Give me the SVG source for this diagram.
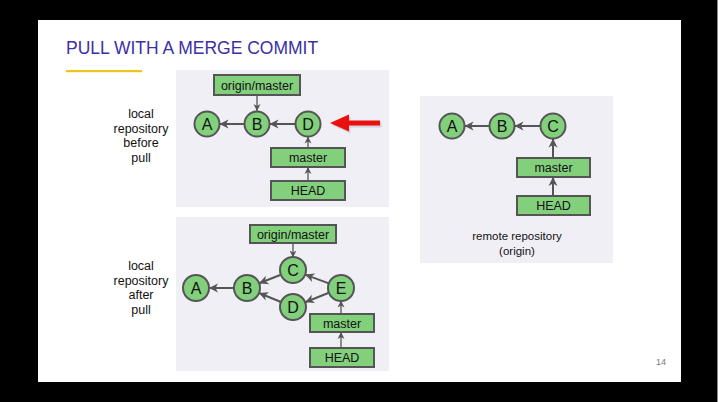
<svg xmlns="http://www.w3.org/2000/svg" width="718" height="402" viewBox="0 0 718 402">
  <style>
    .title { font-family: "Liberation Sans", Arial, sans-serif; font-size: 17.5px; fill: #3b2fa3; }
    .panel { fill: #f1eff6; }
    .commit { fill: #82cf7c; stroke: #555555; stroke-width: 2; }
    .ref { fill: #82cf7c; stroke: #555555; stroke-width: 2; }
    .clabel { font-family: "Liberation Sans", Arial, sans-serif; font-size: 16px; fill: #111111; text-anchor: middle; }
    .rlabel { font-family: "Liberation Sans", Arial, sans-serif; font-size: 12.5px; fill: #111111; text-anchor: middle; }
    .side { font-family: "Liberation Sans", Arial, sans-serif; font-size: 12.5px; fill: #111111; text-anchor: middle; }
    .caption { font-family: "Liberation Sans", Arial, sans-serif; font-size: 11.5px; fill: #111111; text-anchor: middle; }
    .edge { stroke: #555555; stroke-width: 2; fill: none; marker-end: url(#head); }
    .edge-thin { stroke: #555555; stroke-width: 1.3; fill: none; marker-end: url(#head-s); }
  </style>
  <defs>
    <marker id="head" markerUnits="userSpaceOnUse" markerWidth="10" markerHeight="10" refX="9" refY="5" orient="auto">
      <path d="M0,0.5 L9,5 L0,9.5 L2.5,5 z" fill="#555555"/>
    </marker>
    <marker id="head-s" markerUnits="userSpaceOnUse" markerWidth="8" markerHeight="8" refX="7" refY="4" orient="auto">
      <path d="M0,0.5 L7,4 L0,7.5 L2,4 z" fill="#555555"/>
    </marker>
  </defs>

  <!-- slide frame -->
  <rect x="0" y="0" width="718" height="402" fill="#000000"/>
  <rect x="38" y="20" width="643" height="362" fill="#ffffff"/>
  <line x1="717.5" y1="0" x2="717.5" y2="402" stroke="#8a8a8a" stroke-width="1"/>

  <!-- heading -->
  <text class="title" x="66" y="53.5">PULL WITH A MERGE COMMIT</text>
  <rect x="66" y="70" width="76" height="2.2" fill="#f0c419"/>

  <!-- side labels -->
  <g id="label-before">
    <text class="side" x="141" y="118">local</text>
    <text class="side" x="141" y="132.5">repository</text>
    <text class="side" x="141" y="147">before</text>
    <text class="side" x="141" y="161.5">pull</text>
  </g>
  <g id="label-after">
    <text class="side" x="141" y="270">local</text>
    <text class="side" x="141" y="284.5">repository</text>
    <text class="side" x="141" y="299">after</text>
    <text class="side" x="141" y="313.5">pull</text>
  </g>

  <!-- panel backgrounds -->
  <rect class="panel" x="176" y="70" width="213" height="137"/>
  <rect class="panel" x="176" y="217" width="213" height="154"/>
  <rect class="panel" x="420" y="96" width="193" height="167"/>

  <!-- connectors -->
  <g id="connectors">
    <!-- local before pull -->
    <line class="edge" x1="244.5" y1="124" x2="219.5" y2="124"/>
    <line class="edge" x1="295.5" y1="124" x2="269.5" y2="124"/>
    <line class="edge-thin" x1="257" y1="95" x2="257" y2="111"/>
    <line class="edge-thin" x1="308" y1="148" x2="308" y2="136.5"/>
    <line class="edge-thin" x1="308" y1="181" x2="308" y2="167"/>
    <!-- local after pull -->
    <line class="edge" x1="234" y1="288" x2="209" y2="288"/>
    <line class="edge" x1="280.9" y1="274.7" x2="259.1" y2="283.3"/>
    <line class="edge" x1="281" y1="302" x2="259" y2="293"/>
    <line class="edge" x1="328.8" y1="283.4" x2="305.2" y2="274.6"/>
    <line class="edge" x1="328.9" y1="292.8" x2="305.1" y2="302.2"/>
    <line class="edge-thin" x1="293" y1="243" x2="293" y2="257.5"/>
    <line class="edge-thin" x1="341" y1="314" x2="341" y2="300.5"/>
    <line class="edge-thin" x1="341" y1="348" x2="341" y2="332"/>
    <!-- remote -->
    <line class="edge" x1="489.5" y1="126" x2="464.5" y2="126"/>
    <line class="edge" x1="540.5" y1="126" x2="514.5" y2="126"/>
    <line class="edge" x1="553" y1="158" x2="553" y2="138.5"/>
    <line class="edge" x1="553" y1="196" x2="553" y2="177"/>
  </g>

  <!-- local repository before pull -->
  <g id="before-origin-master"><rect class="ref" x="214" y="75" width="86" height="20"/><text class="rlabel" x="257" y="89.5">origin/master</text></g>
  <g id="before-A"><circle class="commit" cx="207" cy="124" r="12.5"/><text class="clabel" x="207" y="129.8">A</text></g>
  <g id="before-B"><circle class="commit" cx="257" cy="124" r="12.5"/><text class="clabel" x="257" y="129.8">B</text></g>
  <g id="before-D"><circle class="commit" cx="308" cy="124" r="12.5"/><text class="clabel" x="308" y="129.8">D</text></g>
  <g id="before-master"><rect class="ref" x="271" y="148" width="74" height="19"/><text class="rlabel" x="308" y="162">master</text></g>
  <g id="before-HEAD"><rect class="ref" x="271" y="181" width="74" height="19"/><text class="rlabel" x="308" y="195">HEAD</text></g>
  <g id="pointer">
    <polygon points="330,123 349,114.5 349,120.5 380,120.5 380,125.5 349,125.5 349,131.5" fill="#000000" opacity="0.12" transform="translate(1.5,2)"/>
    <polygon points="330,123 349,114.5 349,120.5 380,120.5 380,125.5 349,125.5 349,131.5" fill="#ea1010"/>
  </g>

  <!-- local repository after pull -->
  <g id="after-origin-master"><rect class="ref" x="250" y="225" width="86" height="18"/><text class="rlabel" x="293" y="238.5">origin/master</text></g>
  <g id="after-A"><circle class="commit" cx="196" cy="288" r="13"/><text class="clabel" x="196" y="293.8">A</text></g>
  <g id="after-B"><circle class="commit" cx="247" cy="288" r="13"/><text class="clabel" x="247" y="293.8">B</text></g>
  <g id="after-C"><circle class="commit" cx="293" cy="270" r="13"/><text class="clabel" x="293" y="275.8">C</text></g>
  <g id="after-D"><circle class="commit" cx="293" cy="307" r="13"/><text class="clabel" x="293" y="312.8">D</text></g>
  <g id="after-E"><circle class="commit" cx="341" cy="288" r="13"/><text class="clabel" x="341" y="293.8">E</text></g>
  <g id="after-master"><rect class="ref" x="310" y="314" width="64" height="18"/><text class="rlabel" x="342" y="327.5">master</text></g>
  <g id="after-HEAD"><rect class="ref" x="310" y="348" width="64" height="19"/><text class="rlabel" x="342" y="362">HEAD</text></g>

  <!-- remote repository -->
  <g id="remote-A"><circle class="commit" cx="452" cy="126" r="12.5"/><text class="clabel" x="452" y="131.8">A</text></g>
  <g id="remote-B"><circle class="commit" cx="502" cy="126" r="12.5"/><text class="clabel" x="502" y="131.8">B</text></g>
  <g id="remote-C"><circle class="commit" cx="553" cy="126" r="12.5"/><text class="clabel" x="553" y="131.8">C</text></g>
  <g id="remote-master"><rect class="ref" x="517" y="158" width="73" height="19"/><text class="rlabel" x="553.5" y="172">master</text></g>
  <g id="remote-HEAD"><rect class="ref" x="517" y="196" width="73" height="19"/><text class="rlabel" x="553.5" y="210">HEAD</text></g>
  <g id="remote-caption">
    <text class="caption" x="517" y="240">remote repository</text>
    <text class="caption" x="517" y="255">(origin)</text>
  </g>

  <text x="666" y="365" font-family="Liberation Sans, Arial, sans-serif" font-size="9" fill="#777777" text-anchor="end">14</text>
</svg>
